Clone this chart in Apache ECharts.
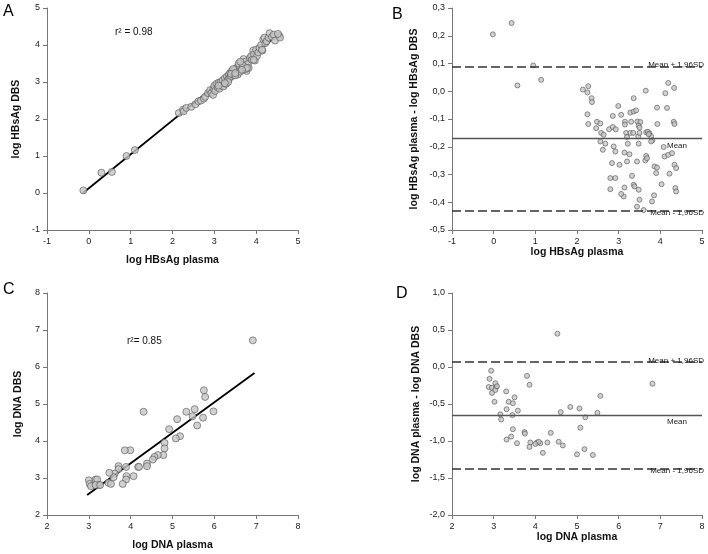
<!DOCTYPE html>
<html><head><meta charset="utf-8">
<script src="https://cdn.jsdelivr.net/npm/echarts@6/dist/echarts.min.js"></script>
<style>html,body{margin:0;padding:0;background:#fff}#c{width:708px;height:554px}</style>
</head><body><div id="c"></div>
<script>
// Panel A: log HBsAg plasma vs log HBsAg DBS
const hbsagScatter = [
[-0.13,0.07],[0.3,0.55],[0.55,0.57],[0.9,1.0],[1.1,1.16],
[2.15,2.16],[2.25,2.25],[2.27,2.21],[2.33,2.3],[2.45,2.33],[2.55,2.4],[2.62,2.48],[2.68,2.5],[2.75,2.55],[2.78,2.6],
[2.85,2.7],[2.9,2.78],[2.93,2.7],[2.97,2.65],[2.98,2.83],[3.0,2.9],[3.02,2.76],[3.05,2.95],[3.08,2.85],[3.1,2.98],
[3.12,2.82],[3.15,3.0],[3.17,2.9],[3.2,3.05],[3.22,2.88],[3.25,3.1],[3.28,2.95],[3.3,3.15],[3.32,3.05],[3.35,3.2],
[3.36,3.1],[3.38,3.25],[3.4,3.15],[3.42,3.3],[3.45,3.22],[3.47,3.18],[3.5,3.35],[3.52,3.25],[3.55,3.4],[3.56,3.2],
[3.58,3.3],[3.6,3.45],[3.62,3.28],[3.65,3.5],[3.67,3.35],[3.7,3.62],[3.72,3.4],[3.75,3.55],[3.77,3.3],[3.8,3.48],
[3.82,3.38],[3.85,3.65],[3.88,3.7],[3.9,3.6],[3.93,3.85],[3.95,3.75],[3.97,3.58],[4.0,3.88],[4.02,3.7],[4.05,3.8],
[4.08,3.92],[4.12,4.0],[4.15,3.85],[4.17,4.15],[4.2,4.2],[4.22,4.05],[4.25,4.1],[4.3,4.2],[4.32,4.32],[4.38,4.22],
[4.42,4.28],[4.45,4.12],[4.55,4.25],[4.57,4.2],[4.52,4.3],[3.33,3.0],[3.45,3.35],[3.58,3.5],[3.4,3.22],[3.25,2.97],
[3.1,2.9],[3.5,3.18],[3.68,3.45],[3.75,3.35],[3.62,3.55],[3.78,3.38],[3.66,3.33],[3.5,3.24],[3.94,3.6],[4.14,3.87]
];
const hbsagFit = [[-0.14,0.0],[4.55,4.3]];
// Panel B: Bland-Altman HBsAg
const hbsagDiff = [
[-0.02,0.205],[0.43,0.246],[0.57,0.021],[0.95,0.093],[1.14,0.041],
[2.14,0.006],[2.27,0.018],[2.25,-0.004],[2.35,-0.025],[2.36,-0.039],
[2.25,-0.083],[2.27,-0.118],[2.48,-0.110],[2.56,-0.116],[2.46,-0.133],
[2.58,-0.150],[2.64,-0.157],[2.77,-0.137],[2.86,-0.129],[2.93,-0.137],
[2.86,-0.089],[2.99,-0.053],[3.06,-0.085],[3.15,-0.110],[3.15,-0.120],
[3.28,-0.077],[3.36,-0.073],[3.42,-0.069],[3.36,-0.025],[3.30,-0.110],
[3.45,-0.109],[3.52,-0.111],[3.48,-0.124],[3.50,-0.131],[3.65,0.002],
[3.92,-0.059],[3.93,-0.118],[4.12,-0.007],[4.19,0.030],[4.33,0.012],
[4.16,-0.060],[4.32,-0.110],[4.34,-0.118],
[3.18,-0.150],[3.28,-0.150],[3.35,-0.150],[3.66,-0.148],[3.70,-0.146],[3.74,-0.152],[3.78,-0.162],[3.81,-0.177],
[3.20,-0.165],[3.47,-0.163],[3.72,-0.155],[3.50,-0.150],
[2.56,-0.181],[2.68,-0.189],[2.88,-0.199],[3.22,-0.189],[3.48,-0.189],[3.78,-0.181],[4.08,-0.201],
[2.62,-0.211],[2.92,-0.217],[3.14,-0.221],[3.26,-0.227],[3.66,-0.233],[4.10,-0.235],[4.19,-0.229],[4.28,-0.223],
[2.84,-0.259],[3.02,-0.265],[3.20,-0.253],[3.44,-0.253],[3.64,-0.249],[3.68,-0.241],[3.86,-0.271],[3.92,-0.275],[4.34,-0.265],[4.38,-0.277],
[3.90,-0.295],[4.22,-0.297],[2.80,-0.313],[2.92,-0.313],[3.32,-0.305],
[2.80,-0.353],[3.14,-0.347],[3.36,-0.337],[3.38,-0.343],[3.48,-0.355],[3.85,-0.375],[4.36,-0.349],[4.38,-0.361],[4.03,-0.335],
[3.12,-0.379],[3.06,-0.370],[3.50,-0.391],[3.80,-0.397],[3.44,-0.416],[3.60,-0.428]
];
const hbsagLimits = [0.085, -0.172, -0.428];
// Panel C: log DNA plasma vs log DNA DBS
const dnaScatter = [
[6.92,6.72],[4.31,4.79],[5.75,5.37],[5.78,5.19],[5.53,4.86],[5.33,4.79],[5.48,4.67],[5.98,4.8],[5.73,4.63],[5.59,4.42],
[5.11,4.59],[4.92,4.32],[5.18,4.13],[5.08,4.07],[4.81,3.95],[4.81,3.80],[4.78,3.62],[4.65,3.62],[4.57,3.57],[4.53,3.5],
[4.39,3.39],[4.39,3.32],[4.18,3.3],[4.2,3.3],[4.07,3.05],[3.99,3.75],[3.86,3.75],[3.89,3.3],[3.90,3.05],[3.89,2.96],
[3.81,2.84],[3.71,3.32],[3.71,3.24],[3.62,3.12],[3.59,3.02],[3.49,3.14],[3.47,2.87],[3.53,2.84],[3.16,2.96],[3.2,2.96],
[3.24,2.81],[3.0,2.94],[3.02,2.84],[3.05,2.78],[3.16,2.81],[3.27,2.81]
];
const dnaFit = [[2.96,2.54],[6.96,5.84]];
// Panel D: Bland-Altman DNA
const dnaDiff = [
[4.53,0.45],[6.81,-0.226],[2.94,-0.05],[2.90,-0.16],[2.88,-0.27],[2.96,-0.28],[3.06,-0.27],[3.04,-0.22],[2.96,-0.35],[3.04,-0.31],
[3.02,-0.47],[3.30,-0.33],[3.80,-0.12],[3.86,-0.24],[3.36,-0.47],[3.46,-0.49],[3.50,-0.41],[3.58,-0.59],[3.16,-0.64],[3.18,-0.71],
[3.45,-0.65],[3.46,-0.84],[3.31,-0.98],[3.42,-0.94],[3.56,-1.03],[3.74,-0.88],[3.75,-0.90],[5.56,-0.39],[4.61,-0.61],[4.84,-0.54],
[5.06,-0.56],[5.49,-0.62],[5.20,-0.68],[5.08,-0.82],[4.37,-0.89],[3.88,-1.02],[3.86,-1.08],[4.04,-1.02],[4.12,-1.03],[4.08,-1.01],
[4.00,-1.04],[4.18,-1.16],[4.29,-1.02],[4.56,-1.01],[4.66,-1.06],[5.00,-1.18],[5.18,-1.11],[5.38,-1.19],[3.08,-0.26],[3.31,-0.57]
];
const dnaLimits = [0.075, -0.65, -1.37];

const FONT = 'Liberation Sans, Arial, sans-serif';
const axisCol = '#777';
function xAxis(gi, min, max, name, gap, fmt){
  return {type:'value', gridIndex:gi, min, max, interval:1, name, nameLocation:'middle', nameGap:gap,
    nameTextStyle:{fontFamily:FONT, fontWeight:'bold', fontSize:10.5, color:'#111'},
    axisLine:{show:true, onZero:false, lineStyle:{color:axisCol, width:1}},
    axisTick:{show:true, length:4, lineStyle:{color:axisCol}},
    axisLabel:{fontFamily:FONT, fontSize:9, color:'#222', margin:7, formatter:fmt},
    splitLine:{show:false}};
}
function yAxis(gi, min, max, interval, name, gap, fmt){
  return {type:'value', gridIndex:gi, min, max, interval, name, nameLocation:'middle', nameGap:gap,
    nameTextStyle:{fontFamily:FONT, fontWeight:'bold', fontSize:10.5, color:'#111'},
    axisLine:{show:true, onZero:false, lineStyle:{color:axisCol, width:1}},
    axisTick:{show:true, length:4, lineStyle:{color:axisCol}},
    axisLabel:{fontFamily:FONT, fontSize:9, color:'#222', margin:7, formatter:fmt},
    splitLine:{show:false}};
}
const comma = v => (Math.round(v*10)/10).toFixed(1).replace('.', ',');
const intf = v => String(Math.round(v));
const ptStyle = {color:'#c6c6c6', borderColor:'#555', borderWidth:0.8};
function limitLines(vals){
  const lab = {fontFamily:FONT, fontSize:8, color:'#222'};
  return {symbol:'none', silent:true, animation:false,
    data:[
      {yAxis:vals[0], lineStyle:{color:'#333', width:1.5, type:[9,4]}, label:Object.assign({show:true, position:'insideEndTop', distance:[-2,-3], formatter:'Mean + 1,96SD'}, lab)},
      {yAxis:vals[1], lineStyle:{color:'#555', width:1.3, type:'solid'}, label:Object.assign({show:true, position:'insideEndBottom', distance:[15,3], formatter:'Mean'}, lab)},
      {yAxis:vals[2], lineStyle:{color:'#333', width:1.5, type:[9,4]}, label:Object.assign({show:true, position:'insideEndBottom', distance:[-2,-2], formatter:'Mean - 1,96SD'}, lab)}
    ]};
}
const chart = echarts.init(document.getElementById('c'), null, {renderer:'canvas'});
chart.setOption({
  animation:false,
  backgroundColor:'#fff',
  grid:[
    {left:47, top:8, width:251, height:222},
    {left:452, top:8, width:250, height:222},
    {left:47, top:293, width:251, height:222},
    {left:452, top:293, width:250, height:222}
  ],
  xAxis:[
    xAxis(0,-1,5,'log HBsAg plasma',25,intf),
    xAxis(1,-1,5,'log HBsAg plasma',16,intf),
    xAxis(2,2,8,'log DNA plasma',25,intf),
    xAxis(3,2,8,'log DNA plasma',17,intf)
  ],
  yAxis:[
    yAxis(0,-1,5,1,'log HBsAg DBS',25,intf),
    yAxis(1,-0.5,0.3,0.1,'log HBsAg plasma - log HBsAg DBS',32,comma),
    yAxis(2,2,8,1,'log DNA DBS',23,intf),
    yAxis(3,-2,1,0.5,'log DNA plasma - log DNA DBS',30,comma)
  ],
  graphic:[
    {type:'text', left:3, top:4, style:{text:'A', font:'16px '+FONT, fill:'#000'}},
    {type:'text', left:392, top:7, style:{text:'B', font:'16px '+FONT, fill:'#000'}},
    {type:'text', left:3, top:282, style:{text:'C', font:'16px '+FONT, fill:'#000'}},
    {type:'text', left:396, top:286, style:{text:'D', font:'16px '+FONT, fill:'#000'}},
    {type:'text', left:115, top:27, style:{text:'r\u00B2 = 0.98', font:'10px '+FONT, fill:'#111'}},
    {type:'text', left:127, top:336, style:{text:'r\u00B2= 0.85', font:'10px '+FONT, fill:'#111'}}
  ],
  series:[
    {type:'line', xAxisIndex:0, yAxisIndex:0, data:hbsagFit, symbol:'none', lineStyle:{color:'#000', width:1.8}, z:1},
    {type:'scatter', xAxisIndex:0, yAxisIndex:0, data:hbsagScatter, symbolSize:7, itemStyle:ptStyle, z:2},
    {type:'scatter', xAxisIndex:1, yAxisIndex:1, data:hbsagDiff, symbolSize:5, itemStyle:ptStyle, markLine:limitLines(hbsagLimits), z:2},
    {type:'line', xAxisIndex:2, yAxisIndex:2, data:dnaFit, symbol:'none', lineStyle:{color:'#000', width:1.8}, z:1},
    {type:'scatter', xAxisIndex:2, yAxisIndex:2, data:dnaScatter, symbolSize:7, itemStyle:ptStyle, z:2},
    {type:'scatter', xAxisIndex:3, yAxisIndex:3, data:dnaDiff, symbolSize:5, itemStyle:ptStyle, markLine:limitLines(dnaLimits), z:2}
  ]
});
</script></body></html>
